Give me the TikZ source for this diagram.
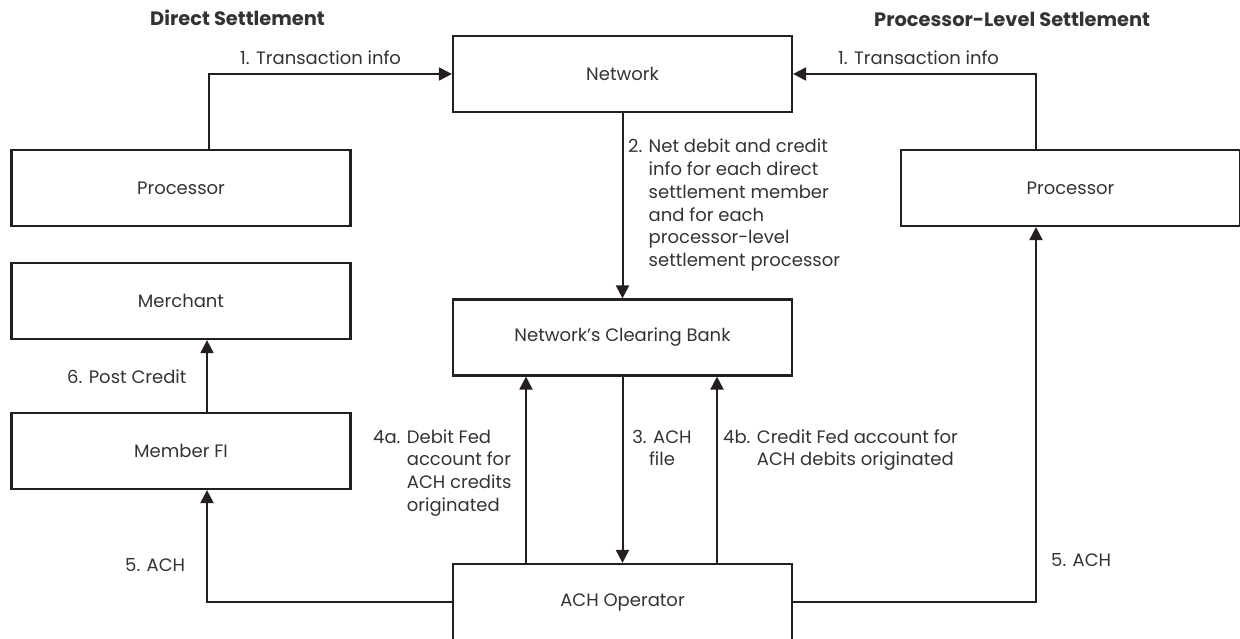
\documentclass[tikz,border=0pt]{standalone}
\usepackage{fontspec}
\setmainfont{Poppins}
\usetikzlibrary{arrows.meta,positioning}
\definecolor{linecol}{HTML}{231F20}
\definecolor{textcol}{HTML}{333333}

\begin{document}
\begin{tikzpicture}[x=1pt,y=-1pt,
    box/.style={draw=linecol,line width=2.2pt,minimum width=339pt,minimum height=76pt,inner sep=0pt,
      font=\fontsize{18}{22.7}\selectfont,text=textcol},
    flow/.style={draw=linecol,line width=2pt,-{Triangle[length=13pt,width=13pt]}},
    lbl/.style={font=\fontsize{18}{22.7}\selectfont,text=textcol,inner sep=0pt},
    title/.style={font=\fontsize{19.4}{22}\selectfont\bfseries,text=textcol,inner sep=0pt}]
  \useasboundingbox (0,0) rectangle (1240,639);

  % Headings
  \node[title,anchor=base west] (hdirect) at (150,26) {Direct Settlement};
  \node[title,anchor=base west] (hproc) at (874,27) {Processor-Level Settlement};

  % Boxes
  \node[box] (net) at (622.5,74) {Network};
  \node[box] (procL) at (181,188) {Processor};
  \node[box] (procR) at (1070.5,188) {Processor};
  \node[box] (merch) at (181,301) {Merchant};
  \node[box] (fi) at (181,451) {Member FI};
  \node[box] (bank) at (622.5,337.5) {Network's Clearing Bank};
  \node[box] (ach) at (622.5,602) {ACH Operator};

  % 1. Transaction info
  \draw[flow] ([xshift=28pt]procL.north) |- (net.west);
  \draw[flow] ([xshift=-34.5pt]procR.north) |- (net.east);
  \node[lbl,anchor=base west] (txl) at (240,65) {1. Transaction info};
  \node[lbl,anchor=base west] (txr) at (838,65) {1. Transaction info};

  % 2. Net debit and credit
  \draw[flow] (net) -- (bank);
  \node[lbl,anchor=base west] (netinfo) at (628,153) {\begin{tabular}[t]{@{}l@{ }l@{}}
    2. & Net debit and credit\\ & info for each direct\\ & settlement member\\
    & and for each\\ & processor-level\\ & settlement processor\end{tabular}};

  % 3, 4a, 4b
  \draw[flow] ([xshift=-96.5pt]ach.north) -- ([xshift=-96.5pt]bank.south);
  \draw[flow] (bank) -- (ach);
  \draw[flow] ([xshift=94.5pt]ach.north) -- ([xshift=94.5pt]bank.south);
  \node[lbl,anchor=base west] (debit) at (373,443) {\begin{tabular}[t]{@{}l@{ }l@{}}
    4a. & Debit Fed\\ & account for\\ & ACH credits\\ & originated\end{tabular}};
  \node[lbl,anchor=base] (achfile) at (662,443) {\begin{tabular}[t]{@{}c@{}}3. ACH\\ file\end{tabular}};
  \node[lbl,anchor=base west] (credit) at (723,443) {\begin{tabular}[t]{@{}l@{ }l@{}}
    4b. & Credit Fed account for\\ & ACH debits originated\end{tabular}};

  % 5. ACH and 6. Post Credit
  \draw[flow] (ach.west) -| ([xshift=26pt]fi.south);
  \draw[flow] (ach.east) -| ([xshift=-34.5pt]procR.south);
  \draw[flow] ([xshift=26pt]fi.north) -- ([xshift=26pt]merch.south);
  \node[lbl,anchor=base west] (achl) at (125,571) {5. ACH};
  \node[lbl,anchor=base west] (achr) at (1051,566) {5. ACH};
  \node[lbl,anchor=base west] (post) at (67,383) {6. Post Credit};
\end{tikzpicture}
\end{document}
